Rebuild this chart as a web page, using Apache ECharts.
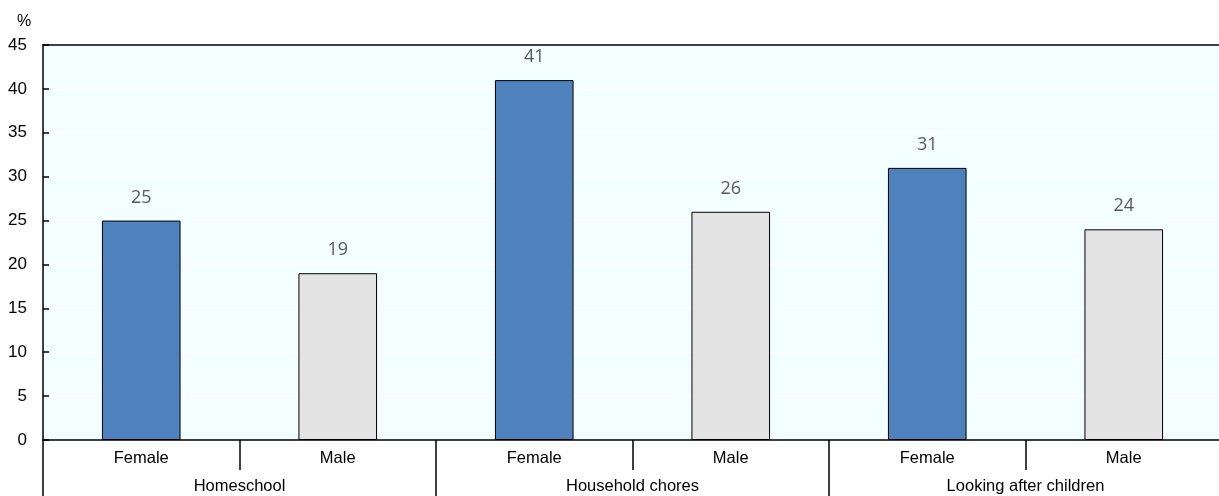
<!DOCTYPE html>
<html><head><meta charset="utf-8">
<script src="https://cdn.jsdelivr.net/npm/echarts@6/dist/echarts.min.js"></script>
<style>html,body{margin:0;padding:0;background:#fff}#c{width:1219px;height:496px}</style>
</head><body><div id="c"></div>
<script>
var groups = ['Homeschool', 'Household chores', 'Looking after children'];
var sexes = ['Female', 'Male'];
var categories = ['Female', 'Male', 'Female', 'Male', 'Female', 'Male'];
var values = [25, 19, 41, 26, 31, 24];
var yTicks = [0, 5, 10, 15, 20, 25, 30, 35, 40, 45];
var colors = {Female: '#4F81BD', Male: '#E3E3E3'};

var chart = echarts.init(document.getElementById('c'));
var f = 'Liberation Sans, Arial, sans-serif';
chart.setOption({
  animation: false,
  grid: {left: 43, width: 1179, top: 45, bottom: 56, show: true, backgroundColor: '#F2FEFF', borderWidth: 0,
         containLabel: false, outerBoundsMode: 'none'},
  graphic: [{type: 'text', left: 17, top: 14, style: {text: '%', fill: '#000', font: '16px Liberation Sans, Arial, sans-serif'}}],
  xAxis: [
    {type: 'category', data: categories, position: 'bottom',
     axisLine: {lineStyle: {color: '#000', width: 1.5}},
     axisTick: {show: true, length: 30, lineStyle: {color: '#000', width: 1.5}},
     axisLabel: {color: '#000', fontFamily: f, fontSize: 16.5, margin: 10}},
    {type: 'category', data: groups, position: 'bottom',
     axisLine: {show: false},
     axisTick: {show: true, length: 56, lineStyle: {color: '#000', width: 1.5}},
     axisLabel: {color: '#000', fontFamily: f, fontSize: 16.5, margin: 38}},
    {type: 'category', data: categories, position: 'top',
     axisLine: {lineStyle: {color: '#000', width: 1.5}},
     axisTick: {show: false}, axisLabel: {show: false}}
  ],
  yAxis: {type: 'value', min: yTicks[0], max: yTicks[yTicks.length - 1], interval: 5,
    axisLine: {show: true, lineStyle: {color: '#000', width: 1.5}},
    axisTick: {show: true, inside: true, length: 6, lineStyle: {color: '#000', width: 1.5}},
    axisLabel: {color: '#000', fontFamily: f, fontSize: 17, margin: 16},
    splitLine: {show: true, lineStyle: {color: '#FFFFFF', width: 1}}
  },
  series: [{
    type: 'bar', xAxisIndex: 0, barWidth: '40%',
    data: values.map(function (v, i) {
      return {value: v, itemStyle: {color: colors[categories[i]], borderColor: '#000', borderWidth: 1}};
    }),
    label: {show: true, position: 'top', distance: 14, color: '#595959', fontFamily: 'Open Sans, Noto Sans, sans-serif', fontSize: 18}
  }]
});
</script></body></html>
